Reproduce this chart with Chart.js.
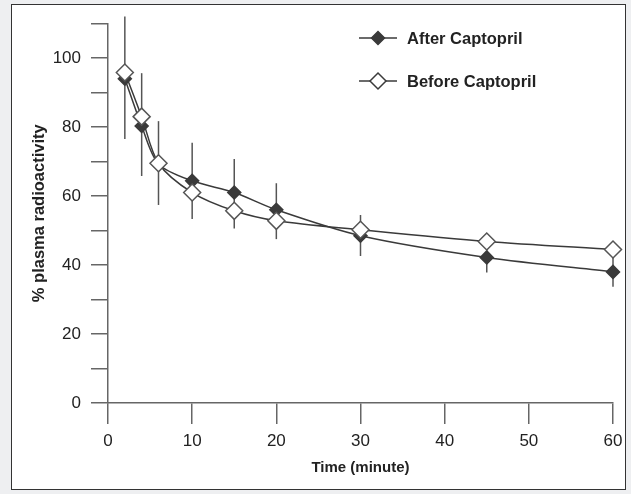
<!DOCTYPE html>
<html>
<head>
<meta charset="utf-8">
<script src="https://cdn.jsdelivr.net/npm/chart.js@4.4.1/dist/chart.umd.min.js"></script>
<style>
  html, body { margin: 0; padding: 0; background: #eeeff1; }
  #frame {
    position: absolute; left: 11px; top: 4px; width: 613px; height: 484px;
    border: 1.5px solid #333; background: #fff;
  }
  #wrap { position: absolute; left: 0; top: 0; width: 631px; height: 494px; }
</style>
</head>
<body>
<div id="frame"></div>
<div id="wrap"><canvas id="chart" width="631" height="494"></canvas></div>
<script>
// time points (minute)
const times = [2, 4, 6, 10, 15, 20, 30, 45, 60];
// % plasma radioactivity
const afterCaptopril = [94, 80.3, 69.3, 64.4, 61, 56, 48.5, 42.2, 38];
const beforeCaptopril = [95.8, 83, 69.5, 61, 55.7, 52.8, 50.2, 46.8, 44.5];
// error bar ends
const errLow = [76.5, 65.8, 57.4, 53.3, 50.6, 47.5, 42.6, 37.8, 33.7];
const errHigh = [112, 95.6, 81.7, 75.4, 70.7, 63.7, 54.5, 48.5, 44.5];
const yTicks = [0, 20, 40, 60, 80, 100];

const FONT = "'Liberation Sans', Arial, sans-serif";
const lineCol = '#3a3a3a';
const axisCol = '#666';

const toPoints = (vals) => times.map((t, i) => ({x: t, y: vals[i]}));

const errorBars = {
  id: 'errorBars',
  beforeDatasetsDraw(chart) {
    const {ctx, scales: {x, y}} = chart;
    ctx.save();
    ctx.strokeStyle = '#555';
    ctx.lineWidth = 1.5;
    times.forEach((t, i) => {
      const px = x.getPixelForValue(t);
      ctx.beginPath();
      ctx.moveTo(px, y.getPixelForValue(errLow[i]));
      ctx.lineTo(px, y.getPixelForValue(errHigh[i]));
      ctx.stroke();
    });
    ctx.restore();
  }
};

const sideLegend = {
  id: 'sideLegend',
  afterDraw(chart) {
    const ctx = chart.ctx;
    const rows = [
      {label: 'After Captopril', fill: lineCol, r: 6.5, y: 38},
      {label: 'Before Captopril', fill: '#fff', r: 8, y: 81}
    ];
    ctx.save();
    rows.forEach(row => {
      ctx.strokeStyle = lineCol;
      ctx.lineWidth = 1.5;
      ctx.beginPath();
      ctx.moveTo(359, row.y);
      ctx.lineTo(397, row.y);
      ctx.stroke();
      const cx = 378;
      ctx.beginPath();
      ctx.moveTo(cx - row.r, row.y);
      ctx.lineTo(cx, row.y - row.r);
      ctx.lineTo(cx + row.r, row.y);
      ctx.lineTo(cx, row.y + row.r);
      ctx.closePath();
      ctx.fillStyle = row.fill;
      ctx.fill();
      ctx.stroke();
      ctx.fillStyle = '#222';
      ctx.font = 'bold 16.5px ' + FONT;
      ctx.textBaseline = 'middle';
      ctx.fillText(row.label, 407, row.y + 1);
    });
    ctx.restore();
  }
};

new Chart(document.getElementById('chart'), {
  type: 'line',
  data: {
    datasets: [
      {
        label: 'After Captopril',
        data: toPoints(afterCaptopril),
        borderColor: lineCol,
        borderWidth: 1.5,
        backgroundColor: lineCol,
        pointStyle: 'rectRot',
        pointRadius: 6.5,
        pointBackgroundColor: lineCol,
        pointBorderColor: lineCol,
        pointBorderWidth: 1.5,
        tension: 0.3,
        clip: false,
        order: 1
      },
      {
        label: 'Before Captopril',
        data: toPoints(beforeCaptopril),
        borderColor: lineCol,
        borderWidth: 1.5,
        backgroundColor: '#fff',
        pointStyle: 'rectRot',
        pointRadius: 8.5,
        pointBackgroundColor: '#fff',
        pointBorderColor: '#555',
        pointBorderWidth: 1.5,
        tension: 0.3,
        clip: false,
        order: 0
      }
    ]
  },
  options: {
    responsive: false,
    animation: false,
    layout: {padding: {left: 0, top: 23.5, right: 18, bottom: 0}},
    plugins: {legend: {display: false}, tooltip: {enabled: false}},
    scales: {
      x: {
        type: 'linear',
        min: 0, max: 60,
        ticks: {stepSize: 10, color: '#222', padding: 7, font: {family: FONT, size: 17}},
        grid: {drawOnChartArea: false, drawTicks: true, tickLength: 21, color: axisCol, lineWidth: 1.5},
        border: {display: true, color: axisCol, width: 1.5},
        title: {display: true, text: 'Time (minute)', color: '#222', padding: {top: 0, bottom: 17}, font: {family: FONT, size: 15, weight: 'bold'}},
        afterFit(scale) { scale.height = 91; }
      },
      y: {
        min: 0, max: 110,
        ticks: {
          stepSize: 10, color: '#222', padding: 10, font: {family: FONT, size: 17},
          callback: (v) => yTicks.includes(v) ? String(v) : ''
        },
        grid: {drawOnChartArea: false, drawTicks: true, tickLength: 17, color: axisCol, lineWidth: 1.5},
        border: {display: true, color: axisCol, width: 1.5},
        title: {display: true, text: '% plasma radioactivity', color: '#222', padding: {top: 30, bottom: 0}, font: {family: FONT, size: 16.5, weight: 'bold'}},
        afterFit(scale) { scale.width = 108; }
      }
    }
  },
  plugins: [errorBars, sideLegend]
});
</script>
</body>
</html>
